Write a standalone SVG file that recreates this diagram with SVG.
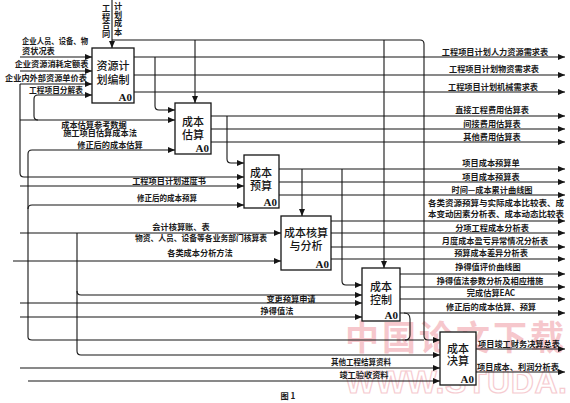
<svg xmlns="http://www.w3.org/2000/svg" width="570" height="403" viewBox="0 0 570 403">
<style>
.ln{stroke:#151515;stroke-width:1.1;fill:none}
.bx{fill:#fff;stroke:#151515;stroke-width:1.3}
.t{font-family:"Noto Sans CJK SC",sans-serif;font-size:8.2px;font-weight:bold;fill:#1a1a1a}
.m{text-anchor:middle}
.bl{font-family:"Noto Sans CJK SC",sans-serif;font-size:11px;font-weight:500;fill:#151515;text-anchor:middle}
.a0{font-family:"Liberation Serif",serif;font-weight:bold;font-size:11px;fill:#151515;text-anchor:end}
.wm{font-family:"Noto Sans CJK SC",sans-serif;font-size:34px;font-weight:bold;fill:#ef9aa3;opacity:0.55}
.wm2{font-family:"Liberation Sans",sans-serif;font-size:32px;font-weight:bold;fill:none;stroke:#f1aab2;stroke-width:1.2;opacity:0.6}
</style>
<defs>
<marker id="ar" markerUnits="userSpaceOnUse" markerWidth="8" markerHeight="6" refX="7" refY="3" orient="auto">
<path d="M0,0 L7,3 L0,6 z" fill="#151515"/>
</marker>
</defs>
<rect width="570" height="403" fill="#fff"/>
<g id="watermark">
<text class="wm" x="345" y="350" letter-spacing="3">中国论文下载</text>
<text class="wm2" x="345" y="393" textLength="222" lengthAdjust="spacing">WWW.STUDA.</text>
</g>
<g id="connectors">
<path class="ln" marker-end="url(#ar)" d="M112,0 L112,48"/>
<path class="ln" marker-end="url(#ar)" d="M112,40 L420,40 Q424,40 424,44 L424,336 Q424,340 428,340 L440,340"/>
<path class="ln" marker-end="url(#ar)" d="M195,40 L195,103"/>
<path class="ln" marker-end="url(#ar)" d="M384,40 L384,268"/>
<path class="ln" marker-end="url(#ar)" d="M20,57 L92,57"/>
<path class="ln" marker-end="url(#ar)" d="M20,71 L92,71"/>
<path class="ln" marker-end="url(#ar)" d="M20,84 L92,84"/>
<path class="ln" marker-end="url(#ar)" d="M34,99 Q34,95 38,95 L92,95"/>
<path class="ln" d="M34,99 L34,116 Q34,120 38,120"/>
<path class="ln" marker-end="url(#ar)" d="M20,84 L20,173 Q20,177 24,177 L244,177"/>
<path class="ln" marker-end="url(#ar)" d="M20,120 L175,120"/>
<path class="ln" marker-end="url(#ar)" d="M134,57 L565,57"/>
<path class="ln" marker-end="url(#ar)" d="M134,75 L565,75"/>
<path class="ln" marker-end="url(#ar)" d="M134,92 L565,92"/>
<path class="ln" marker-end="url(#ar)" d="M155,57 L155,106 Q155,110 159,110 L175,110"/>
<path class="ln" marker-end="url(#ar)" d="M211,116 L565,116"/>
<path class="ln" marker-end="url(#ar)" d="M211,129 L565,129"/>
<path class="ln" marker-end="url(#ar)" d="M211,142 L565,142"/>
<path class="ln" marker-end="url(#ar)" d="M227,116 L227,159 Q227,163 231,163 L244,163"/>
<path class="ln" marker-end="url(#ar)" d="M28,337 L28,154 Q28,150 32,150 L175,150"/>
<path class="ln" marker-end="url(#ar)" d="M28,209 Q28,205 32,205 L244,205"/>
<path class="ln" d="M28,337 Q28,340 32,340 L424,340"/>
<path class="ln" marker-end="url(#ar)" d="M20,186 L244,186"/>
<path class="ln" marker-end="url(#ar)" d="M279,169 L565,169"/>
<path class="ln" marker-end="url(#ar)" d="M279,182 L565,182"/>
<path class="ln" marker-end="url(#ar)" d="M279,195 L565,195"/>
<path class="ln" marker-end="url(#ar)" d="M302,169 L302,216"/>
<path class="ln" marker-end="url(#ar)" d="M342,169 L342,281 Q342,285 346,285 L362,285"/>
<path class="ln" marker-end="url(#ar)" d="M20,233 L281,233"/>
<path class="ln" marker-end="url(#ar)" d="M13,261 L281,261"/>
<path class="ln" marker-end="url(#ar)" d="M77,233 L77,351 Q77,355 81,355 L440,355"/>
<path class="ln" marker-end="url(#ar)" d="M77,291 Q77,295 81,295 L362,295"/>
<path class="ln" marker-end="url(#ar)" d="M20,303 L362,303"/>
<path class="ln" marker-end="url(#ar)" d="M20,317 L362,317"/>
<path class="ln" marker-end="url(#ar)" d="M331,221 L565,221"/>
<path class="ln" marker-end="url(#ar)" d="M331,233 L565,233"/>
<path class="ln" marker-end="url(#ar)" d="M331,247 L565,247"/>
<path class="ln" marker-end="url(#ar)" d="M331,259 L565,259"/>
<path class="ln" marker-end="url(#ar)" d="M400,274 L565,274"/>
<path class="ln" marker-end="url(#ar)" d="M400,287 L565,287"/>
<path class="ln" marker-end="url(#ar)" d="M400,299 L565,299"/>
<path class="ln" marker-end="url(#ar)" d="M400,313 L565,313"/>
<path class="ln" d="M404,313 Q410,313 410,319 L410,335 Q410,340 405,340"/>
<path class="ln" marker-end="url(#ar)" d="M20,368 L440,368"/>
<path class="ln" marker-end="url(#ar)" d="M28,381 L440,381"/>
<path class="ln" marker-end="url(#ar)" d="M476,349 L565,349"/>
<path class="ln" marker-end="url(#ar)" d="M476,372 L565,372"/>
</g>
<g id="A1">
<rect class="bx" x="92" y="48" width="42" height="55"/>
<text class="bl" x="113" y="70">资源计</text>
<text class="bl" x="113" y="84">划编制</text>
<text class="a0" x="132" y="101">A0</text>
</g>
<g id="A2">
<rect class="bx" x="175" y="103" width="36" height="51"/>
<text class="bl" x="193" y="126">成本</text>
<text class="bl" x="193" y="139">估算</text>
<text class="a0" x="209" y="152">A0</text>
</g>
<g id="A3">
<rect class="bx" x="244" y="155" width="35" height="53"/>
<text class="bl" x="261" y="177">成本</text>
<text class="bl" x="261" y="190">预算</text>
<text class="a0" x="277" y="206">A0</text>
</g>
<g id="A4">
<rect class="bx" x="281" y="216" width="50" height="54"/>
<text class="bl" x="306" y="237">成本核算</text>
<text class="bl" x="306" y="250">与分析</text>
<text class="a0" x="329" y="268">A0</text>
</g>
<g id="A5">
<rect class="bx" x="362" y="268" width="38" height="53"/>
<text class="bl" x="381" y="291">成本</text>
<text class="bl" x="381" y="304">控制</text>
<text class="a0" x="398" y="319">A0</text>
</g>
<g id="A6">
<rect class="bx" x="440" y="332" width="36" height="53"/>
<text class="bl" x="458" y="353">成本</text>
<text class="bl" x="458" y="365">决算</text>
<text class="a0" x="474" y="383">A0</text>
</g>
<g id="labels">
<text class="t" x="106" y="4" style="writing-mode:vertical-rl" font-size="7.6" letter-spacing="0.4">工程合同</text>
<text class="t" x="118" y="2" style="writing-mode:vertical-rl" font-size="7.6" letter-spacing="0.4">计划成本</text>
<text class="t" x="22" y="44" textLength="66" lengthAdjust="spacingAndGlyphs">企业人员、设备、物</text>
<text class="t" x="22" y="54">资状况表</text>
<text class="t m" x="51.5" y="67">企业资源消耗定额表</text>
<text class="t m" x="46" y="81">企业内外部资源单价表</text>
<text class="t m" x="56" y="93" textLength="54" lengthAdjust="spacingAndGlyphs">工程项目分解表</text>
<text class="t m" x="94" y="127.5" font-size="7.8">成本估算参考数据</text>
<text class="t m" x="100" y="136" font-size="7.8">施工项目估算成本法</text>
<text class="t m" x="110" y="148">修正后的成本估算</text>
<text class="t m" x="169" y="184">工程项目计划进度书</text>
<text class="t m" x="167" y="201" textLength="60" lengthAdjust="spacingAndGlyphs">修正后的成本预算</text>
<text class="t m" x="181" y="230">会计核算账、表</text>
<text class="t m" x="201" y="241" textLength="132" lengthAdjust="spacingAndGlyphs">物资、人员、设备等各业务部门核算表</text>
<text class="t m" x="200" y="256">各类成本分析方法</text>
<text class="t m" x="291" y="302">变更预算申请</text>
<text class="t m" x="277" y="314">挣得值法</text>
<text class="t m" x="361" y="365" textLength="60" lengthAdjust="spacingAndGlyphs">其他工程结算资料</text>
<text class="t m" x="364" y="378">竣工验收资料</text>
<text class="t m" x="495" y="55">工程项目计划人力资源需求表</text>
<text class="t m" x="494" y="72">工程项目计划物资需求表</text>
<text class="t m" x="493" y="90">工程项目计划机械需求表</text>
<text class="t m" x="492" y="113">直接工程费用估算表</text>
<text class="t m" x="492" y="127">间接费用估算表</text>
<text class="t m" x="492" y="140">其他费用估算表</text>
<text class="t m" x="491" y="166">项目成本预算单</text>
<text class="t m" x="491" y="180">项目成本预算表</text>
<text class="t m" x="492" y="193">时间—成本累计曲线图</text>
<text class="t m" x="496" y="206" textLength="136" lengthAdjust="spacingAndGlyphs">各类资源预算与实际成本比较表、成</text>
<text class="t m" x="496" y="217" textLength="136" lengthAdjust="spacingAndGlyphs">本变动因素分析表、成本动态比较表</text>
<text class="t m" x="492" y="231">分项工程成本分析表</text>
<text class="t m" x="495" y="244">月度成本盈亏异常情况分析表</text>
<text class="t m" x="491" y="256">预算成本差异分析表</text>
<text class="t m" x="488" y="270">挣得值评价曲线图</text>
<text class="t m" x="490" y="284">挣得值法参数分析及相应措施</text>
<text class="t m" x="491" y="296">完成估算EAC</text>
<text class="t m" x="491" y="310">修正后的成本估算、预算</text>
<text class="t m" x="519" y="347">项目竣工财务决算总表</text>
<text class="t m" x="518" y="370">项目成本、利润分析表</text>
<text class="t m" x="288" y="399" font-size="10">图 1</text>
</g>
</svg>
